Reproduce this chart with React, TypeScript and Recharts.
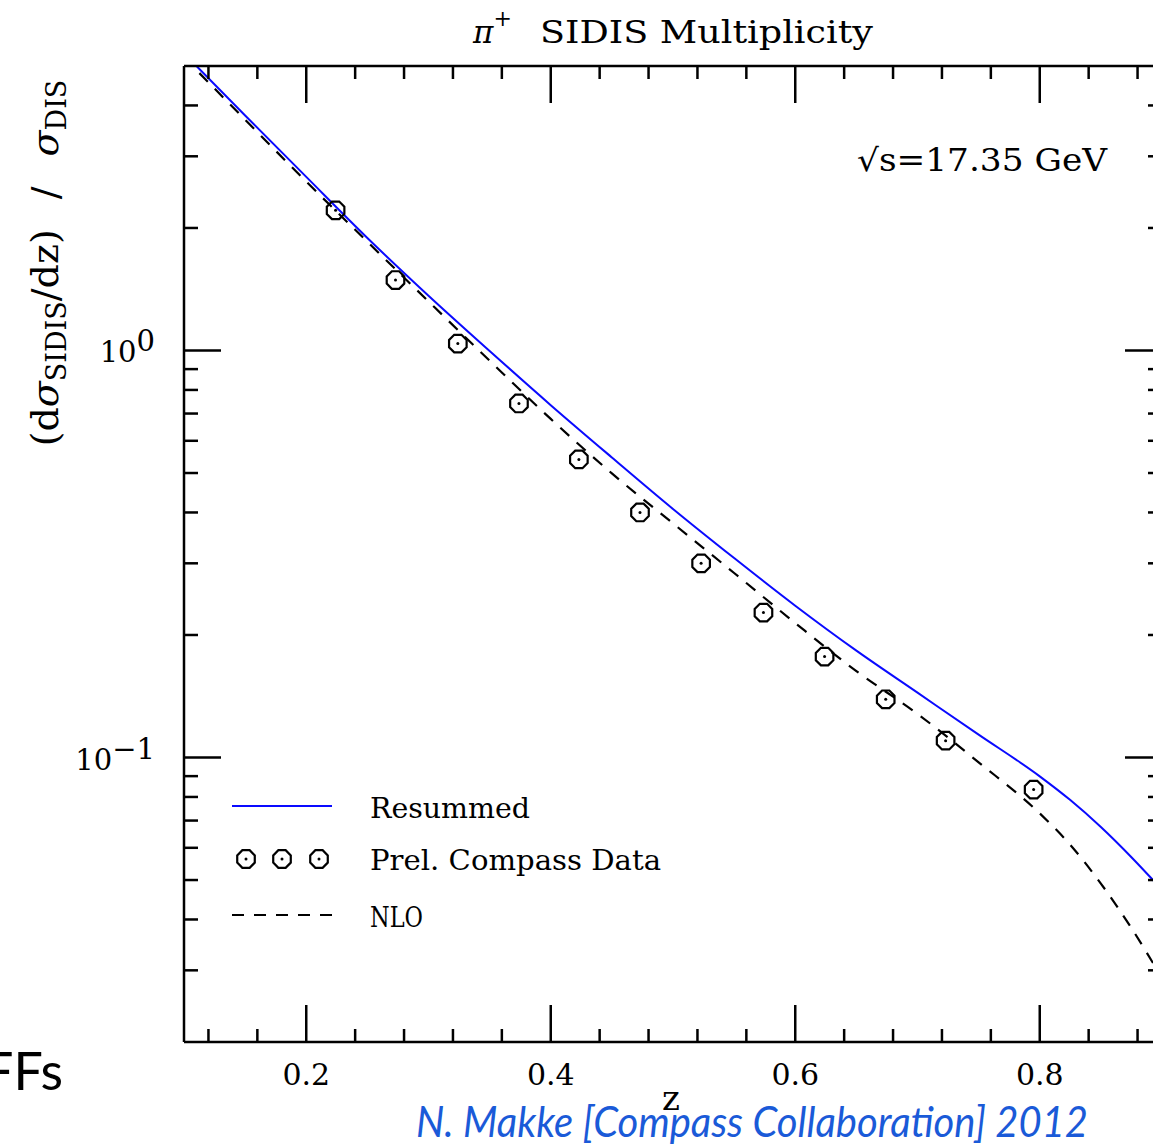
import React from 'react'
import { ComposedChart, Line, Scatter, XAxis, YAxis } from 'recharts'

// theory curves (z, dsigma/dz / sigma_DIS)
const curveZ = [0.10, 0.15, 0.20, 0.25, 0.30, 0.35, 0.40, 0.45, 0.50, 0.55, 0.60, 0.65, 0.70, 0.75, 0.80, 0.825, 0.85, 0.875, 0.90]
const resummedVals = [5.37, 3.78, 2.67, 1.89, 1.363, 0.997, 0.734, 0.546, 0.408, 0.309, 0.236, 0.183, 0.1443, 0.1138, 0.0899, 0.0786, 0.0675, 0.0569, 0.0473]
const nloVals = [5.25, 3.69, 2.60, 1.85, 1.32, 0.944, 0.679, 0.499, 0.376, 0.284, 0.214, 0.163, 0.128, 0.0973, 0.0729, 0.0610, 0.0490, 0.0381, 0.0287]

// preliminary COMPASS points
const compassZ = [0.224, 0.273, 0.324, 0.374, 0.423, 0.473, 0.523, 0.574, 0.624, 0.674, 0.723, 0.795]
const compassVals = [2.21, 1.49, 1.04, 0.741, 0.540, 0.400, 0.300, 0.227, 0.177, 0.139, 0.110, 0.0834]

const xTicks = [0.12, 0.16, 0.2, 0.24, 0.28, 0.32, 0.36, 0.4, 0.44, 0.48, 0.52, 0.56, 0.6, 0.64, 0.68, 0.72, 0.76, 0.8, 0.84, 0.88]
const xMajor = [0.2, 0.4, 0.6, 0.8]
const yTicks = [0.03, 0.04, 0.05, 0.06, 0.07, 0.08, 0.09, 0.1, 0.2, 0.3, 0.4, 0.5, 0.6, 0.7, 0.8, 0.9, 1, 2, 3, 4]
const yMajor = [0.1, 1]

const resummed = curveZ.map((z, i) => ({ z, v: resummedVals[i] }))
const nlo = curveZ.map((z, i) => ({ z, v: nloVals[i] }))
const compass = compassZ.map((z, i) => ({ z, v: compassVals[i] }))

const SERIF = '"DejaVu Serif", "Liberation Serif", serif'
const SANS = 'Lato, "Open Sans", sans-serif'
const PLOT_H = 976
const MAJOR = 37
const MINOR = 13
const AX_W = 2.5

const isIn = (list: number[], v: number) => list.some(m => Math.abs(m - v) < 1e-9)

// bottom axis tick; also draws the matching tick on the top frame edge
const BottomTick = (props: any) => {
    const { x, y, payload } = props
    const major = isIn(xMajor, payload.value)
    const len = major ? MAJOR : MINOR
    const top = y - PLOT_H
    return (
        <g>
            <line x1={x} x2={x} y1={y} y2={y - len} stroke="#000" strokeWidth={AX_W} />
            <line x1={x} x2={x} y1={top} y2={top + len} stroke="#000" strokeWidth={AX_W} />
            {major && (
                <text x={x} y={y + 43} textAnchor="middle" fontFamily={SERIF} fontSize={30} fill="#000">
                    {payload.value.toFixed(1)}
                </text>
            )}
        </g>
    )
}

const LeftTick = (props: any) => {
    const { x, y, payload } = props
    const v = payload.value
    const major = isIn(yMajor, v)
    return (
        <g>
            <line x1={x} x2={x + (major ? MAJOR : 14)} y1={y} y2={y} stroke="#000" strokeWidth={AX_W} />
            {major && (
                <text x={x - 29} y={y + 12} textAnchor="end" fontFamily={SERIF} fontSize={29} fill="#000">
                    <tspan>10</tspan>
                    <tspan dy={-11}>{v === 1 ? '0' : '\u22121'}</tspan>
                </text>
            )}
        </g>
    )
}

const RightTick = (props: any) => {
    const { x, y, payload } = props
    const major = isIn(yMajor, payload.value)
    return <line x1={x} x2={x - (major ? MAJOR : 14)} y1={y} y2={y} stroke="#000" strokeWidth={AX_W} />
}

const Octagon = (props: any) => {
    const { cx, cy } = props
    const r = 9.5
    const pts = Array.from({ length: 8 }, (_, i) => {
        const a = Math.PI / 8 + (i * Math.PI) / 4
        return `${cx + r * Math.cos(a)},${cy + r * Math.sin(a)}`
    }).join(' ')
    return (
        <g>
            <polygon points={pts} fill="none" stroke="#000" strokeWidth={2.2} />
            <circle cx={cx} cy={cy} r={1.5} fill="#000" />
        </g>
    )
}

const axisLine = { stroke: '#000', strokeWidth: AX_W }

export default function App() {
    return (
        <div style={{ position: 'absolute', left: 0, top: 0, width: 1153, height: 1145, overflow: 'hidden', background: '#fff' }}>
            <ComposedChart width={1200} height={1145} margin={{ top: 65, right: 37, bottom: 102, left: 183 }}>
                <XAxis xAxisId="b" dataKey="z" type="number" domain={[0.1, 0.9]} allowDataOverflow
                       ticks={xTicks} interval={0} tickSize={0} tickMargin={0} tickLine={false}
                       tick={<BottomTick />} height={1} axisLine={axisLine} />
                <XAxis xAxisId="t" orientation="top" type="number" domain={[0.1, 0.9]} allowDataOverflow
                       tick={false} tickLine={false} height={1} axisLine={axisLine} />
                <YAxis yAxisId="l" type="number" scale="log" domain={[0.02, 5]} allowDataOverflow
                       ticks={yTicks} interval={0} tickSize={0} tickMargin={0} tickLine={false}
                       tick={<LeftTick />} width={1} axisLine={axisLine} />
                <YAxis yAxisId="r" orientation="right" type="number" scale="log" domain={[0.02, 5]} allowDataOverflow
                       ticks={yTicks} interval={0} tickSize={0} tickMargin={0} tickLine={false}
                       tick={<RightTick />} width={1} axisLine={axisLine} />

                <Line xAxisId="b" yAxisId="l" data={nlo} dataKey="v" type="monotone" stroke="#000"
                      strokeWidth={2.2} strokeDasharray="12 10" dot={false} isAnimationActive={false} />
                <Line xAxisId="b" yAxisId="l" data={resummed} dataKey="v" type="monotone" stroke="#0a0aff"
                      strokeWidth={2} dot={false} isAnimationActive={false} />
                <Scatter xAxisId="b" yAxisId="l" data={compass} dataKey="v" shape={<Octagon />}
                         isAnimationActive={false} />
            </ComposedChart>

            <svg width={1153} height={1145} style={{ position: 'absolute', left: 0, top: 0, pointerEvents: 'none' }}>
                {/* title */}
                <text x={473} y={43} fontFamily={SERIF} fontSize={31} fill="#000">
                    <tspan fontStyle="italic">π</tspan>
                    <tspan fontSize={22} dy={-17}>+</tspan>
                    <tspan dy={17} x={540} textLength={333} lengthAdjust="spacingAndGlyphs">SIDIS Multiplicity</tspan>
                </text>

                {/* y label */}
                <text transform="translate(58,263) rotate(-90)" textAnchor="middle" fontFamily={SERIF}
                      fontSize={38} fill="#000">
                    <tspan>(d</tspan>
                    <tspan fontStyle="italic">σ</tspan>
                    <tspan fontSize={27} dy={8}>SIDIS</tspan>
                    <tspan dy={-8}>/dz)</tspan>
                    <tspan dx={30}>/</tspan>
                    <tspan dx={30} fontStyle="italic">σ</tspan>
                    <tspan fontSize={27} dy={8}>DIS</tspan>
                </text>

                <text x={857} y={171} fontFamily={SERIF} fontSize={31} fill="#000"
                      textLength={250} lengthAdjust="spacingAndGlyphs">√s=17.35 GeV</text>

                {/* legend */}
                <line x1={232} x2={332} y1={806} y2={806} stroke="#0a0aff" strokeWidth={2} />
                <text x={370} y={818} fontFamily={SERIF} fontSize={28} fill="#000"
                      textLength={160} lengthAdjust="spacingAndGlyphs">Resummed</text>
                {[246, 282, 319].map(cx => <Octagon key={cx} cx={cx} cy={859} />)}
                <text x={370} y={870} fontFamily={SERIF} fontSize={28} fill="#000"
                      textLength={291} lengthAdjust="spacingAndGlyphs">Prel. Compass Data</text>
                <line x1={232} x2={332} y1={915} y2={915} stroke="#000" strokeWidth={2.2} strokeDasharray="12 10" />
                <text x={370} y={927} fontFamily={SERIF} fontSize={28} fill="#000"
                      textLength={53} lengthAdjust="spacingAndGlyphs">NLO</text>

                <text x={671} y={1110} textAnchor="middle" fontFamily={SERIF} fontSize={34} fill="#000">z</text>

                <text x={63} y={1090} textAnchor="end" fontFamily={SANS} fontSize={52} fill="#000">FFs</text>
                <text x={416} y={1137} fontFamily={SANS} fontStyle="italic" fontSize={42} fill="#1a5ad8"
                      textLength={672} lengthAdjust="spacingAndGlyphs">N. Makke [Compass Collaboration] 2012</text>
            </svg>
        </div>
    )
}
